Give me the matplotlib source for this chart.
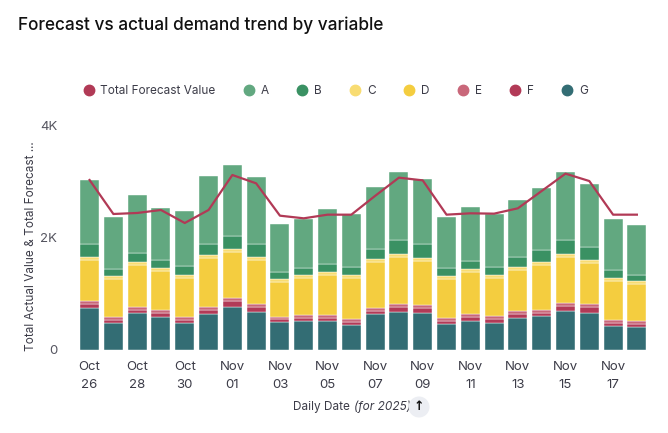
import matplotlib.pyplot as plt
import numpy as np

plt.rcParams["font.family"] = ["Inter", "DejaVu Sans"]

DATES = ["Oct 26", "Oct 27", "Oct 28", "Oct 29", "Oct 30", "Oct 31",
         "Nov 01", "Nov 02", "Nov 03", "Nov 04", "Nov 05", "Nov 06",
         "Nov 07", "Nov 08", "Nov 09", "Nov 10", "Nov 11", "Nov 12",
         "Nov 13", "Nov 14", "Nov 15", "Nov 16", "Nov 17", "Nov 18"]

# segment values, bottom to top
G = [747, 480, 658, 587, 480, 640, 764, 676, 498, 516, 516, 444,
     640, 676, 658, 462, 516, 480, 569, 604, 693, 658, 427, 409]
F = [71, 53, 53, 71, 53, 71, 107, 88, 53, 53, 53, 54,
     53, 88, 89, 54, 71, 71, 71, 54, 89, 106, 53, 53]
E = [53, 54, 53, 53, 54, 53, 53, 54, 36, 53, 53, 53,
     54, 54, 53, 53, 53, 53, 53, 53, 54, 54, 53, 54]
D = [729, 675, 747, 699, 699, 872, 818, 782, 622, 664, 711, 735,
     817, 835, 782, 693, 747, 676, 729, 800, 817, 729, 694, 657]
C = [53, 54, 53, 48, 47, 53, 54, 53, 53, 47, 54, 47,
     54, 54, 54, 54, 53, 53, 54, 53, 54, 53, 53, 54]
B = [231, 124, 160, 142, 160, 195, 231, 231, 125, 125, 142, 143,
     178, 249, 248, 142, 142, 143, 177, 214, 249, 231, 142, 106]
A = [1138, 924, 1032, 924, 978, 1209, 1262, 1192, 853, 871, 978, 942,
     1102, 1208, 1156, 906, 960, 942, 1014, 1102, 1208, 1120, 907, 889]

FORECAST = [3022, 2418, 2436, 2489, 2258, 2489, 3111, 2963, 2388, 2341,
            2406, 2406, 2740, 3064, 3016, 2406, 2430, 2424, 2519, 2827,
            3135, 3004, 2406, 2406]

SERIES = [("G", G, "#336d74"), ("F", F, "#b23a57"), ("E", E, "#c9677a"),
          ("D", D, "#f4cd3f"), ("C", C, "#f8dc72"), ("B", B, "#3a9163"),
          ("A", A, "#62a880")]
LINE_COLOR = "#b13a56"
TEXT = "#3c3c48"

fig = plt.figure(figsize=(6.68, 4.33), dpi=100)
ax = fig.add_axes([0.117, 0.1917, 0.856, 0.5196])

x = np.arange(len(DATES))
bottom = np.zeros(len(DATES))
for name, vals, color in SERIES:
    ax.bar(x, vals, width=0.8, bottom=bottom, color=color,
           edgecolor="white", linewidth=0.3)
    bottom += np.array(vals)

ax.plot(x, FORECAST, color=LINE_COLOR, linewidth=1.6, zorder=5)

ax.set_xlim(-0.48, 23.55)
ax.set_ylim(0, 4000)
ax.set_yticks([0, 2000, 4000])
ax.set_yticklabels(["0", "2K", "4K"])
ax.set_xticks(x[::2])
ax.set_xticklabels([d.replace(" ", "\n") for d in DATES[::2]],
                   linespacing=1.7)
ax.tick_params(length=0, colors=TEXT, labelsize=9.5)
ax.tick_params(axis="y", pad=15, labelcolor="#555560")
ax.tick_params(axis="x", pad=8)
for s in ax.spines.values():
    s.set_visible(False)

ax.set_ylabel("Total Actual Value & Total Forecast ...", fontsize=8.5,
              color=TEXT)
ax.yaxis.set_label_coords(-0.072, 0.46)

fig.text(0.027, 0.942, "Forecast vs actual demand trend by variable",
         fontsize=12.4, color="#111111", fontweight="medium", va="center")

# x axis label with italic part and sort arrow
label_y = 1 - 407 / 433
fig.text(350 / 668, label_y, "Daily Date", fontsize=8.5, color=TEXT,
         ha="right", va="center")
fig.text(354 / 668, label_y, "(for 2025)", fontsize=8.5, color=TEXT,
         ha="left", va="center", style="italic")
fig.text(419 / 668, label_y, "\u2191", fontsize=9, color="#111111",
         ha="center", va="center", fontweight="bold",
         family=["DejaVu Sans"],
         bbox=dict(boxstyle="circle,pad=0.32", fc="#eceef3", ec="none"))

# legend
handles = [plt.Line2D([], [], marker="o", linestyle="", markersize=7.5,
                      color=LINE_COLOR)]
labels = ["Total Forecast Value"]
for name, vals, color in SERIES[::-1]:
    handles.append(plt.Line2D([], [], marker="o", linestyle="",
                              markersize=7.5, color=color))
    labels.append(name)
fig.legend(handles, labels, loc="center", bbox_to_anchor=(0.502, 0.79),
           ncol=8, frameon=False, fontsize=8.5, labelcolor=TEXT,
           handletextpad=0.5, columnspacing=2.33, handlelength=1.0)

fig.savefig("out.png", dpi=100)
